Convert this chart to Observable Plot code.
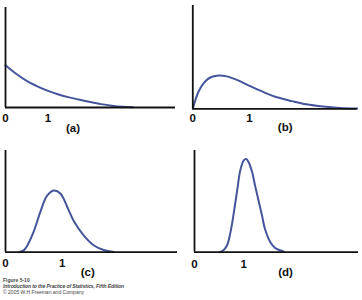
<!DOCTYPE html>
<html>
<head>
<meta charset="utf-8">
<script src="https://cdn.jsdelivr.net/npm/d3@7"></script>
<script src="https://cdn.jsdelivr.net/npm/@observablehq/plot@0.6"></script>
<style>
  html, body { margin: 0; padding: 0; background: #fff; }
  #wrap { position: relative; width: 362px; height: 300px; overflow: hidden; background: #fff;
          font-family: "Liberation Sans", Arial, sans-serif; }
  .panel { position: absolute; }
  #caption { position: absolute; left: 3px; top: 277px; color: #444; font-size: 5px; line-height: 6px; white-space: nowrap; }
</style>
</head>
<body>
<div id="wrap">
  <div class="panel" id="pa" style="left:0;top:0"></div>
  <div class="panel" id="pb" style="left:181px;top:0"></div>
  <div class="panel" id="pc" style="left:0;top:140px"></div>
  <div class="panel" id="pd" style="left:181px;top:140px"></div>
  <div id="caption"></div>
</div>
<script>
// ---- data ----
// (a) exponential-like density
const xA = [0, 0.25, 0.5, 0.75, 1.0, 1.25, 1.5, 1.75, 2.0, 2.25, 2.5, 2.75, 3.0];
const yA = [0.94, 0.75, 0.59, 0.47, 0.37, 0.29, 0.225, 0.17, 0.12, 0.075, 0.04, 0.015, 0.004];
// (b) right-skewed density
const xB = [0, 0.1, 0.2, 0.3, 0.45, 0.6, 0.8, 1.0, 1.25, 1.5, 1.75, 2.0, 2.3, 2.6, 2.9];
const yB = [0, 0.38, 0.58, 0.69, 0.74, 0.72, 0.63, 0.51, 0.37, 0.25, 0.17, 0.10, 0.05, 0.02, 0.004];
// (c) mildly skewed density
const xC = [0.24, 0.32, 0.38, 0.5, 0.62, 0.73, 0.85, 0.97, 1.09, 1.2, 1.38, 1.56, 1.73, 1.91];
const yC = [0, 0.04, 0.14, 0.47, 0.92, 1.25, 1.37, 1.30, 1.00, 0.70, 0.37, 0.15, 0.05, 0.007];
// (d) nearly normal density
const xD = [0.51, 0.58, 0.66, 0.73, 0.8, 0.87, 0.93, 1.0, 1.05, 1.10, 1.17, 1.23, 1.30, 1.37, 1.43, 1.54, 1.64, 1.81];
const yD = [0, 0.04, 0.15, 0.44, 0.89, 1.40, 1.82, 2.04, 2.07, 2.00, 1.78, 1.48, 1.15, 0.82, 0.52, 0.22, 0.09, 0.016];

const tickValues = [0, 1];
const tickLabels = ["0", "1"];
const panelLabels = ["(a)", "(b)", "(c)", "(d)"];
const captionLines = [
  "Figure 5-10",
  "Introduction to the Practice of Statistics, Fifth Edition",
  "\u00A9 2005 W.H.Freeman and Company"
];

// ---- layout (not data) ----
const curveColor = "#46559b";
const layouts = [
  {id: "pa", xs: xA, ys: yA, w: 181, h: 140, ml: 5, mr: 6, mt: 7, mb: 33, xmax: 4.0, labelX: 1.59, pad: 6, labelDy: 21},
  {id: "pb", xs: xB, ys: yB, w: 181, h: 140, ml: 11.3, mr: 5.3, mt: 5, mb: 31.7, xmax: 2.9, labelX: 1.63, pad: 5, labelDy: 19},
  {id: "pc", xs: xC, ys: yC, w: 181, h: 136, ml: 5, mr: 4, mt: 10, mb: 24.3, xmax: 3.03, labelX: 1.45, pad: 6.5, labelDy: 20.3},
  {id: "pd", xs: xD, ys: yD, w: 181, h: 136, ml: 13, mr: 4, mt: 10, mb: 24.3, xmax: 3.33, labelX: 1.85, pad: 8, labelDy: 20.3}
];
const pxPerUnit = 45;

layouts.forEach((L, i) => {
  const data = L.xs.map((x, j) => ({x, y: L.ys[j]}));
  const plotH = L.h - L.mt - L.mb;
  const chart = Plot.plot({
    width: L.w,
    height: L.h,
    marginLeft: L.ml, marginRight: L.mr, marginTop: L.mt, marginBottom: L.mb,
    style: {fontFamily: "'Liberation Sans', Arial, sans-serif", background: "transparent", overflow: "visible"},
    x: {domain: [0, L.xmax], axis: null},
    y: {domain: [0, plotH / pxPerUnit], axis: null},
    marks: [
      Plot.line(data, {x: "x", y: "y", stroke: curveColor, strokeWidth: 2, curve: "catmull-rom"}),
      Plot.ruleY([0], {stroke: "#111", strokeWidth: 1.8}),
      Plot.ruleX([0], {stroke: "#111", strokeWidth: 1.8}),
      Plot.axisX(tickValues, {
        anchor: "bottom", tickSize: 0, tickPadding: L.pad, label: null,
        tickFormat: (d) => tickLabels[tickValues.indexOf(d)],
        fontSize: 11.5, fontWeight: "bold", fill: "#111"
      }),
      Plot.text([panelLabels[i]], {
        x: () => L.labelX, text: (d) => d, frameAnchor: "bottom", dy: L.labelDy,
        fontSize: 11.5, fontWeight: "bold", fill: "#111", textAnchor: "middle", lineAnchor: "middle"
      })
    ]
  });
  document.getElementById(L.id).appendChild(chart);
});

const cap = document.getElementById("caption");
const capStyles = [
  "font-weight:bold;",
  "font-weight:bold;font-style:italic;letter-spacing:-0.1px;",
  ""
];
captionLines.forEach((t, i) => {
  const d = document.createElement("div");
  d.textContent = t;
  d.setAttribute("style", capStyles[i]);
  cap.appendChild(d);
});
</script>
</body>
</html>
